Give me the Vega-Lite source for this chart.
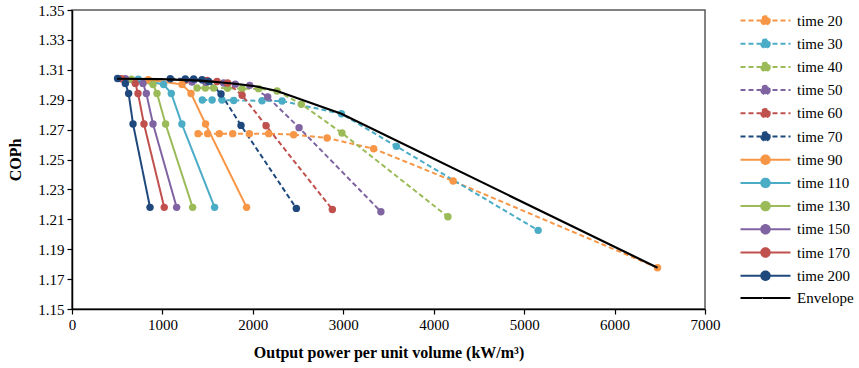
{
  "$schema": "https://vega.github.io/schema/vega-lite/v6.json",
  "width": 633,
  "height": 299,
  "autosize": {"type": "none"},
  "padding": {"left": 72, "top": 10, "right": 154, "bottom": 59},
  "background": "white",
  "config": {
    "font": "Liberation Serif",
    "view": {"stroke": "#595959", "strokeWidth": 1.5},
    "axis": {
      "labelFont": "Liberation Serif",
      "labelFontSize": 15,
      "labelColor": "#000000",
      "labelFlush": false,
      "titleFont": "Liberation Serif",
      "titleFontSize": 16,
      "titleFontWeight": "bold",
      "titleColor": "#000000",
      "domainColor": "#000000",
      "domainWidth": 1.5,
      "tickColor": "#000000",
      "tickWidth": 1.2,
      "tickSize": 5,
      "grid": false
    }
  },
  "data": {
    "values": [
      {"series": "time 20", "power": 1394, "cop": 1.2673},
      {"series": "time 20", "power": 1500, "cop": 1.2673},
      {"series": "time 20", "power": 1629, "cop": 1.2673},
      {"series": "time 20", "power": 1777, "cop": 1.2673},
      {"series": "time 20", "power": 1961, "cop": 1.2673},
      {"series": "time 20", "power": 2175, "cop": 1.2673},
      {"series": "time 20", "power": 2451, "cop": 1.2666},
      {"series": "time 20", "power": 2821, "cop": 1.2644},
      {"series": "time 20", "power": 3336, "cop": 1.2572},
      {"series": "time 20", "power": 4215, "cop": 1.2356},
      {"series": "time 20", "power": 6475, "cop": 1.1776},

      {"series": "time 30", "power": 1441, "cop": 1.2898},
      {"series": "time 30", "power": 1549, "cop": 1.2898},
      {"series": "time 30", "power": 1659, "cop": 1.2898},
      {"series": "time 30", "power": 1788, "cop": 1.2895},
      {"series": "time 30", "power": 2102, "cop": 1.2893},
      {"series": "time 30", "power": 2323, "cop": 1.2891},
      {"series": "time 30", "power": 2979, "cop": 1.2806},
      {"series": "time 30", "power": 3587, "cop": 1.2588},
      {"series": "time 30", "power": 5155, "cop": 1.2026},

      {"series": "time 40", "power": 1383, "cop": 1.2978},
      {"series": "time 40", "power": 1475, "cop": 1.2978},
      {"series": "time 40", "power": 1566, "cop": 1.2978},
      {"series": "time 40", "power": 1720, "cop": 1.2977},
      {"series": "time 40", "power": 1881, "cop": 1.2974},
      {"series": "time 40", "power": 2064, "cop": 1.2974},
      {"series": "time 40", "power": 2268, "cop": 1.2958},
      {"series": "time 40", "power": 2536, "cop": 1.2870},
      {"series": "time 40", "power": 2985, "cop": 1.2677},
      {"series": "time 40", "power": 4157, "cop": 1.2117},

      {"series": "time 50", "power": 1327, "cop": 1.3018},
      {"series": "time 50", "power": 1480, "cop": 1.3016},
      {"series": "time 50", "power": 1677, "cop": 1.3012},
      {"series": "time 50", "power": 1806, "cop": 1.3004},
      {"series": "time 50", "power": 1965, "cop": 1.2996},
      {"series": "time 50", "power": 2164, "cop": 1.2918},
      {"series": "time 50", "power": 2511, "cop": 1.2713},
      {"series": "time 50", "power": 3416, "cop": 1.2151},

      {"series": "time 60", "power": 1253, "cop": 1.3030},
      {"series": "time 60", "power": 1493, "cop": 1.3029},
      {"series": "time 60", "power": 1604, "cop": 1.3022},
      {"series": "time 60", "power": 1721, "cop": 1.3012},
      {"series": "time 60", "power": 1881, "cop": 1.2930},
      {"series": "time 60", "power": 2146, "cop": 1.2726},
      {"series": "time 60", "power": 2879, "cop": 1.2166},

      {"series": "time 70", "power": 1087, "cop": 1.3040},
      {"series": "time 70", "power": 1253, "cop": 1.3039},
      {"series": "time 70", "power": 1345, "cop": 1.3038},
      {"series": "time 70", "power": 1438, "cop": 1.3034},
      {"series": "time 70", "power": 1511, "cop": 1.3022},
      {"series": "time 70", "power": 1648, "cop": 1.2938},
      {"series": "time 70", "power": 1869, "cop": 1.2728},
      {"series": "time 70", "power": 2481, "cop": 1.2173},

      {"series": "time 90", "power": 844, "cop": 1.3034},
      {"series": "time 90", "power": 1217, "cop": 1.3002},
      {"series": "time 90", "power": 1316, "cop": 1.2942},
      {"series": "time 90", "power": 1477, "cop": 1.2737},
      {"series": "time 90", "power": 1931, "cop": 1.2180},

      {"series": "time 110", "power": 733, "cop": 1.3037},
      {"series": "time 110", "power": 1013, "cop": 1.3002},
      {"series": "time 110", "power": 1098, "cop": 1.2942},
      {"series": "time 110", "power": 1215, "cop": 1.2737},
      {"series": "time 110", "power": 1577, "cop": 1.2180},

      {"series": "time 130", "power": 656, "cop": 1.3037},
      {"series": "time 130", "power": 896, "cop": 1.3002},
      {"series": "time 130", "power": 940, "cop": 1.2942},
      {"series": "time 130", "power": 1035, "cop": 1.2737},
      {"series": "time 130", "power": 1334, "cop": 1.2180},

      {"series": "time 150", "power": 590, "cop": 1.3040},
      {"series": "time 150", "power": 785, "cop": 1.3009},
      {"series": "time 150", "power": 822, "cop": 1.2942},
      {"series": "time 150", "power": 896, "cop": 1.2737},
      {"series": "time 150", "power": 1157, "cop": 1.2180},

      {"series": "time 170", "power": 545, "cop": 1.3040},
      {"series": "time 170", "power": 700, "cop": 1.3009},
      {"series": "time 170", "power": 730, "cop": 1.2942},
      {"series": "time 170", "power": 796, "cop": 1.2737},
      {"series": "time 170", "power": 1020, "cop": 1.2180},

      {"series": "time 200", "power": 504, "cop": 1.3042},
      {"series": "time 200", "power": 590, "cop": 1.3009},
      {"series": "time 200", "power": 626, "cop": 1.2942},
      {"series": "time 200", "power": 675, "cop": 1.2737},
      {"series": "time 200", "power": 863, "cop": 1.2180},

      {"series": "Envelope", "power": 498, "cop": 1.3040},
      {"series": "Envelope", "power": 977, "cop": 1.3037},
      {"series": "Envelope", "power": 1419, "cop": 1.3027},
      {"series": "Envelope", "power": 1751, "cop": 1.3010},
      {"series": "Envelope", "power": 2028, "cop": 1.2990},
      {"series": "Envelope", "power": 2268, "cop": 1.2958},
      {"series": "Envelope", "power": 2979, "cop": 1.2806},
      {"series": "Envelope", "power": 6475, "cop": 1.1776}
    ]
  },
  "encoding": {
    "x": {
      "field": "power",
      "type": "quantitative",
      "scale": {"domain": [0, 7000], "nice": false, "zero": false},
      "axis": {
        "title": "Output power per unit volume (kW/m³)",
        "values": [0, 1000, 2000, 3000, 4000, 5000, 6000, 7000],
        "format": "d",
        "labelPadding": 3,
        "titlePadding": 12
      }
    },
    "y": {
      "field": "cop",
      "type": "quantitative",
      "scale": {"domain": [1.15, 1.35], "nice": false, "zero": false},
      "axis": {
        "title": "COPh",
        "values": [1.15, 1.17, 1.19, 1.21, 1.23, 1.25, 1.27, 1.29, 1.31, 1.33, 1.35],
        "format": ".2f",
        "labelPadding": 3,
        "titlePadding": 14
      }
    },
    "color": {
      "field": "series",
      "type": "nominal",
      "scale": {
        "domain": ["time 20", "time 30", "time 40", "time 50", "time 60", "time 70", "time 90", "time 110", "time 130", "time 150", "time 170", "time 200", "Envelope"],
        "range": ["#F79646", "#4BACC6", "#9BBB59", "#8064A2", "#C0504D", "#1F497D", "#F79646", "#4BACC6", "#9BBB59", "#8064A2", "#C0504D", "#1F497D", "#000000"]
      },
      "legend": {
        "title": null,
        "orient": "none",
        "legendX": 686,
        "legendY": 3,
        "padding": 0,
        "symbolType": "M-5,0H5M0.85,0A0.85,0.85,0,1,1,-0.85,0A0.85,0.85,0,1,1,0.85,0",
        "symbolSize": 100,
        "symbolStrokeWidth": 2,
        "labelFont": "Liberation Serif",
        "labelFontSize": 15,
        "labelColor": "#000000",
        "labelOffset": 24,
        "labelLimit": 200,
        "rowPadding": 6.2,
        "encode": {
          "symbols": {
            "update": {
              "shape": {"signal": "datum.value === 'Envelope' ? 'M-5,0H5' : 'M-5,0H5M0.85,0A0.85,0.85,0,1,1,-0.85,0A0.85,0.85,0,1,1,0.85,0'"},
              "fill": {"signal": "scale('color', datum.value)"},
              "stroke": {"signal": "scale('color', datum.value)"},
              "strokeDash": {"signal": "indexof(['time 20','time 30','time 40','time 50','time 60','time 70'], datum.value) >= 0 ? [5,3] : [1,0]"},
              "opacity": {"value": 1},
              "fillOpacity": {"value": 1}
            }
          }
        }
      }
    }
  },
  "layer": [
    {
      "transform": [{"filter": "datum.series !== 'Envelope'"}],
      "mark": {"type": "line", "strokeWidth": 2},
      "encoding": {
        "strokeDash": {
          "field": "series",
          "type": "nominal",
          "scale": {
            "domain": ["time 20", "time 30", "time 40", "time 50", "time 60", "time 70", "time 90", "time 110", "time 130", "time 150", "time 170", "time 200"],
            "range": [[5, 3], [5, 3], [5, 3], [5, 3], [5, 3], [5, 3], [1, 0], [1, 0], [1, 0], [1, 0], [1, 0], [1, 0]]
          },
          "legend": null
        }
      }
    },
    {
      "transform": [{"filter": "datum.series !== 'Envelope'"}],
      "mark": {"type": "point", "filled": true, "size": 55, "opacity": 1}
    },
    {
      "transform": [{"filter": "datum.series === 'Envelope'"}],
      "mark": {"type": "line", "strokeWidth": 2.2},
      "encoding": {}
    }
  ]
}
